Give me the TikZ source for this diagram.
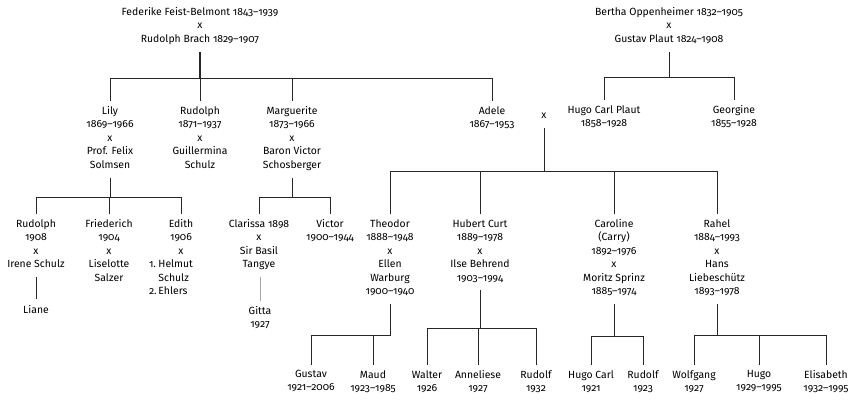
\documentclass[tikz,border=0pt]{standalone}
\usepackage{fontspec}
\setmainfont{Fira Sans}[Numbers=OldStyle]
\usepackage{tikz}

\tikzset{
  pp/.style={align=center, anchor=north, inner xsep=1pt, inner ysep=5pt,
    font=\fontsize{10.4}{13.5}\selectfont,
    execute at begin node=\strut, execute at end node=\strut},
  ln/.style={draw=black!85, line width=0.6pt}
}

\begin{document}
\begin{tikzpicture}[x=1pt, y=-1pt]
		\useasboundingbox (0,0) rectangle (854,400);

		% grandparents
		\node[pp] (fb) at (200,2) {Federike Feist-Belmont 1843--1939\\x\\Rudolph Brach 1829--1907};
		\node[pp] (op) at (669,2) {Bertha Oppenheimer 1832--1905\\x\\Gustav Plaut 1824--1908};

		% children
		\node[pp] (lily) at (110,101) {Lily\\1869--1966\\x\\Prof. Felix\\Solmsen};
		\node[pp] (rud) at (200,101) {Rudolph\\1871--1937\\x\\Guillermina\\Schulz};
		\node[pp] (marg) at (292,101) {Marguerite\\1873--1966\\x\\Baron Victor\\Schosberger};
		\node[pp] (adele) at (492,101) {Adele\\1867--1953};
		\node[pp] (mx) at (544,104) {x};
		\node[pp] (hugo) at (604,100) {Hugo Carl Plaut\\1858--1928};
		\node[pp] (georg) at (734,100) {Georgine\\1855--1928};

		% grandchildren
		\node[pp] (rudi) at (36,214) {Rudolph\\1908\\x\\Irene Schulz};
		\node[pp] (fried) at (109,214) {Friederich\\1904\\x\\Liselotte\\Salzer};
		\node[pp] (edith) at (181,214) {Edith\\1906\\x\\\begin{tabular}[t]{@{}l@{\,}l@{}}1.&Helmut\\&Schulz\\2.&Ehlers\end{tabular}\hspace*{20pt}};
		\node[pp] (clar) at (259,214) {Clarissa 1898\\x\\Sir Basil\\Tangye};
		\node[pp] (vic) at (330,214) {Victor\\1900--1944};
		\node[pp] (theo) at (390,214) {Theodor\\1888--1948\\x\\Ellen\\Warburg\\1900--1940};
		\node[pp] (hub) at (480,214) {Hubert Curt\\1889--1978\\x\\Ilse Behrend\\1903--1994};
		\node[pp] (caro) at (614,214) {Caroline\\(Carry)\\1892--1976\\x\\Moritz Sprinz\\1885--1974};
		\node[pp] (rahel) at (717,214) {Rahel\\1884--1993\\x\\Hans\\Liebeschütz\\1893--1978};

		\node[pp] (liane) at (36,299) {Liane};
		\node[pp] (gitta) at (260,301) {Gitta\\1927};

		% great-grandchildren
		\node[pp] (gus) at (311,365) {Gustav\\1921--2006};
		\node[pp] (maud) at (373,365) {Maud\\1923--1985};
		\node[pp] (walt) at (427,365) {Walter\\1926};
		\node[pp] (anne) at (478,365) {Anneliese\\1927};
		\node[pp] (rudo) at (536,365) {Rudolf\\1932};
		\node[pp] (hc) at (591,365) {Hugo Carl\\1921};
		\node[pp] (rudf) at (643,365) {Rudolf\\1923};
		\node[pp] (wolf) at (694,365) {Wolfgang\\1927};
		\node[pp] (hugb) at (759,365) {Hugo\\1929--1995};
		\node[pp] (elis) at (826,365) {Elisabeth\\1932--1995};

		% bars
		\coordinate (bfb) at (200,78);
		\coordinate (bop) at (669,77);
		\coordinate (bad) at (544,171);
		\coordinate (blily) at (110,197);
		\coordinate (bmarg) at (292,197);
		\coordinate (btheo) at (390,335);
		\coordinate (bhub) at (480,328);
		\coordinate (bcaro) at (614,336);
		\coordinate (brah) at (717,335);

		\draw[ln, line width=1.3pt] (fb.south) -- (fb.south |- bfb);
		\draw[ln] (lily.north) |- (adele.north |- bfb) -- (adele.north);
		\draw[ln] (rud.north) -- (rud.north |- bfb);
		\draw[ln] (marg.north) -- (marg.north |- bfb);

		\draw[ln] (op.south) -- (op.south |- bop);
		\draw[ln] (hugo.north) |- (georg.north |- bop) -- (georg.north);

		\draw[ln] (mx.south) -- (mx.south |- bad);
		\draw[ln] (theo.north) |- (rahel.north |- bad) -- (rahel.north);
		\draw[ln] (hub.north) -- (hub.north |- bad);
		\draw[ln] (caro.north) -- (caro.north |- bad);

		\draw[ln] (lily.south) -- (lily.south |- blily);
		\draw[ln] (rudi.north) |- (edith.north |- blily) -- (edith.north);
		\draw[ln] (fried.north) -- (fried.north |- blily);

		\draw[ln] (marg.south) -- (marg.south |- bmarg);
		\draw[ln] (clar.north) |- (vic.north |- bmarg) -- (vic.north);

		\draw[ln] (rudi.south) -- (liane.north);
		\draw[ln, draw=gray!70] (clar.south -| gitta.north) -- (gitta.north);

		\draw[ln] (theo.south) |- (gus.north |- btheo) -- (gus.north);
		\draw[ln] (maud.north) -- (maud.north |- btheo);

		\draw[ln] (hub.south) -- (hub.south |- bhub);
		\draw[ln] (walt.north) |- (rudo.north |- bhub) -- (rudo.north);
		\draw[ln] (anne.north) -- (anne.north |- bhub);

		\draw[ln] (caro.south) -- (caro.south |- bcaro);
		\draw[ln] (hc.north) |- (rudf.north |- bcaro) -- (rudf.north);

		\draw[ln] (rahel.south) -- (rahel.south |- brah);
		\draw[ln] (wolf.north) |- (elis.north |- brah) -- (elis.north);
		\draw[ln] (hugb.north) -- (hugb.north |- brah);
\end{tikzpicture}
\end{document}
